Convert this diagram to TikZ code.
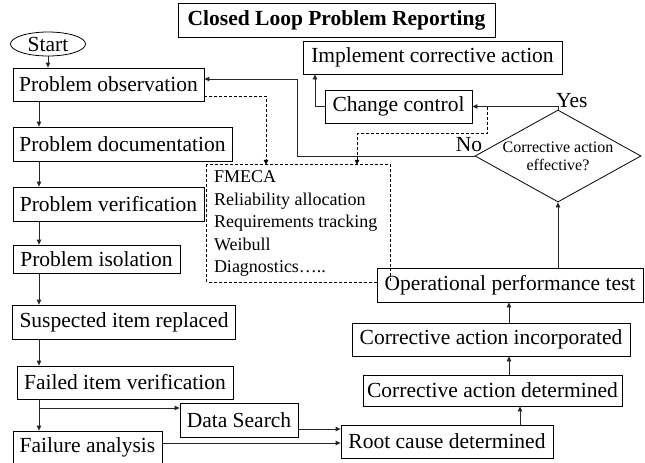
\documentclass[tikz,border=0pt]{standalone}
\usepackage{fontspec}
\setmainfont{Liberation Serif}
\usetikzlibrary{shapes.geometric,arrows.meta,calc}

\newcommand\bxfont{\fontsize{21.5}{24}\selectfont}
\newcommand\ttlfont{\fontsize{21.5}{24}\selectfont\bfseries}
\newcommand\lstfont{\fontsize{18}{22.5}\selectfont}
\newcommand\dmfont{\fontsize{16}{18}\selectfont}

\begin{document}
\begin{tikzpicture}[x=1pt,y=-1pt,
  box/.style={draw, line width=0.8pt, inner sep=0pt, font=\bxfont, fill=white},
  arr/.style={draw=black!85, line width=0.8pt, -{Triangle[length=5pt,width=4.5pt]}},
  dsh/.style={draw=black, line width=0.7pt, dash pattern=on 3pt off 2pt},
  dsharr/.style={dsh, -{Triangle[length=5pt,width=4.5pt]}},
  lbl/.style={inner sep=0pt, font=\bxfont}]

\useasboundingbox (0,0) rectangle (645,463);

% title
\node[box, font=\ttlfont, minimum width=317, minimum height=34] (title) at (336.5,20) {Closed Loop Problem Reporting};

% left column
\node[draw, ellipse, line width=0.8pt, inner sep=0pt, font=\bxfont, minimum width=75, minimum height=24] (start) at (48,44) {Start};
\node[box, minimum width=191, minimum height=33] (obs)  at (108.5,84.5) {Problem observation};
\node[box, minimum width=219, minimum height=34] (doc)  at (122.5,144) {Problem documentation};
\node[box, minimum width=191, minimum height=34] (ver)  at (108.5,204) {Problem verification};
\node[box, minimum width=167, minimum height=28] (iso)  at (96.5,259) {Problem isolation};
\node[box, minimum width=223, minimum height=34] (sus)  at (124,322) {Suspected item replaced};
\node[box, minimum width=216, minimum height=33] (fver) at (125,382.5) {Failed item verification};
\node[box, minimum width=118, minimum height=34] (data) at (239,420) {Data Search};
\node[box, minimum width=149, minimum height=32] (fan)  at (87.5,447) {Failure analysis};

% right column
\node[box, minimum width=212, minimum height=33] (root) at (447,441.5) {Root cause determined};
\node[box, minimum width=259, minimum height=31] (cad)  at (492.5,390.5) {Corrective action determined};
\node[box, minimum width=278, minimum height=33] (cai)  at (491,339.5) {Corrective action incorporated};

% analysis tools (border drawn below, partly hidden by the test box)
\node[inner sep=0pt, minimum width=183, minimum height=117, font=\lstfont] (tools) at (298.5,223.5)
  {\parbox{169pt}{FMECA\\Reliability allocation\\Requirements tracking\\Weibull\\Diagnostics…..}};
\draw[dsh] (tools.south east) -- (tools.north east) -- (tools.north west) -- (tools.south west) -- (tools.south west -| 377,0);

\node[box, minimum width=266, minimum height=34] (opt)  at (510,285) {Operational performance test};
\draw[dsh] (tools.north east |- opt.north) -- (tools.south east);

\node[draw, diamond, line width=0.8pt, aspect=1.8, inner sep=-5pt, minimum width=166, minimum height=92,
      align=center, font=\dmfont] (dia) at (558,156) {Corrective action\\effective?};
\node[box, minimum width=259, minimum height=33] (impl) at (432.5,57.5) {Implement corrective action};
\node[box, minimum width=147, minimum height=33] (chg)  at (398.5,106.5) {Change control};

\node[lbl, anchor=west] (yes) at (556,101) {Yes};
\node[lbl] (no) at (469,145) {No};

% left spine
\coordinate (spine) at (39,0);
\draw[arr] (start.south) -- (start.south |- obs.north);
\draw[arr] (obs.south -| spine) -- (doc.north -| spine);
\draw[arr] (doc.south -| spine) -- (ver.north -| spine);
\draw[arr] (ver.south -| spine) -- (iso.north -| spine);
\draw[arr] (iso.south -| spine) -- (sus.north -| spine);
\draw[arr] (sus.south -| spine) -- (fver.north -| spine);
\draw[arr] (fver.south -| spine) -- (fan.north -| spine);
\coordinate (br) at (39,408);
\draw[arr] (br) -- (br -| data.west);

% into root cause
\coordinate (dsout) at ([yshift=-9pt]data.east);
\draw[arr] (dsout) -- (dsout -| root.west);
\coordinate (faout) at ([yshift=4pt]fan.east);
\draw[arr] (faout) -- (faout -| root.west);

% right column upward
\coordinate (c1) at (520,0);
\coordinate (c2) at (509,0);
\draw[arr] (root.north -| c1) -- (cad.south -| c1);
\draw[arr] (cad.north -| c2) -- (cai.south -| c2);
\draw[arr] (cai.north -| c2) -- (opt.south -| c2);
\draw[arr] (opt.north -| dia.south) -- (dia.south);

% yes branch
\draw[arr] (dia.north) -- (dia.north |- chg.east) -- (chg.east);
\coordinate (ci) at (315,0);
\draw[arr] (chg.west) -- (chg.west -| ci) -- (impl.south -| ci);

% no branch
\coordinate (nocorner) at (297,0);
\coordinate (obsin) at ([yshift=5.5pt]obs.east);
\draw[arr] (dia.west) -- (dia.west -| nocorner) -- (nocorner |- obsin) -- (obsin);

% dashed links to the tools box
\coordinate (t1) at (266,0);
\coordinate (obsout) at ([yshift=-11.5pt]obs.east);
\draw[dsharr] (obsout) -- (obsout -| t1) -- (tools.north -| t1);
\coordinate (t2) at (357,0);
\coordinate (d2) at (487,133);
\draw[dsharr] (d2 |- chg.east) -- (d2) -- (d2 -| t2) -- (tools.north -| t2);
\end{tikzpicture}
\end{document}
